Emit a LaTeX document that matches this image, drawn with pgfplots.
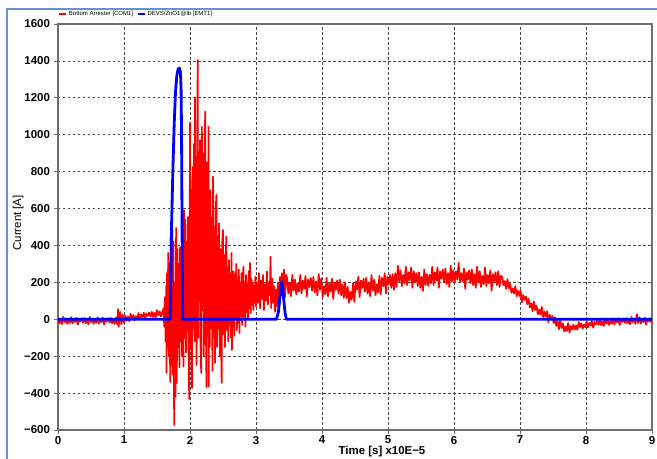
\documentclass[border=0pt]{standalone}
\usepackage{fontspec}
\setmainfont{Liberation Sans}
\usepackage{pgfplots}
\usepackage{pgfplotstable}
\pgfplotsset{compat=1.18}

\definecolor{frameblue}{RGB}{100,149,210}
\definecolor{axgray}{RGB}{110,110,110}
\definecolor{gridgray}{RGB}{70,70,70}

% Bottom Arrester [COM1]
\pgfplotstableread{
x y
0.00 7
0.02 -22
0.04 -1
0.06 -27
0.08 13
0.10 -16
0.12 4
0.14 -25
0.16 -4
0.18 -20
0.20 11
0.22 -23
0.24 1
0.26 -15
0.28 9
0.30 -29
0.32 2
0.34 -12
0.36 6
0.38 -18
0.40 7
0.42 -22
0.44 -1
0.46 -27
0.48 13
0.50 -16
0.52 4
0.54 -25
0.56 -4
0.58 -20
0.60 11
0.62 -23
0.64 1
0.66 -15
0.68 9
0.70 -29
0.72 2
0.74 -12
0.76 6
0.78 -18
0.80 7
0.82 -22
0.84 -1
0.86 -25
0.88 10
0.90 -30
0.91 55
0.92 -40
0.94 40
0.96 -28
0.98 25
1.00 -20
1.02 20
1.04 -8
1.06 14
1.08 -11
1.10 30
1.12 2
1.14 23
1.16 -5
1.18 17
1.20 2
1.22 34
1.24 1
1.26 26
1.28 11
1.30 36
1.32 -1
1.34 31
1.36 18
1.38 37
1.40 14
1.42 40
1.44 12
1.46 34
1.48 9
1.50 50
1.52 22
1.54 43
1.56 15
1.58 39
1.60 60
1.61 -40
1.62 120
1.63 -120
1.64 180
1.645 -290
1.65 250
1.66 -150
1.67 360
1.68 -200
1.69 300
1.70 -340
1.71 450
1.72 -250
1.73 500
1.74 -300
1.75 420
1.76 -573
1.77 200
1.78 -420
1.79 495
1.80 -345
1.81 380
1.82 -150
1.83 300
1.84 -260
1.85 390
1.86 -120
1.87 350
1.88 -200
1.89 480
1.90 -257
1.91 590
1.92 -100
1.93 540
1.94 -180
1.95 420
1.96 -60
1.97 554
1.98 -300
1.99 -432
2.00 1064
2.01 -150
2.02 700
2.03 -372
2.04 825
2.05 -50
2.06 950
2.07 -120
2.075 1199
2.08 200
2.09 880
2.10 -248
2.11 1000
2.117 1405
2.125 -100
2.13 760
2.14 100
2.15 971
2.16 -150
2.17 -291
2.18 1044
2.19 50
2.20 900
2.21 -200
2.22 780
2.23 1125
2.24 0
2.25 -367
2.26 850
2.27 -100
2.28 1044
2.285 -365
2.29 600
2.30 -150
2.31 700
2.32 -50
2.33 550
2.34 -280
2.35 773
2.36 -100
2.37 500
2.38 -237
2.39 600
2.40 674
2.41 -150
2.42 450
2.43 -50
2.44 520
2.45 -200
2.46 380
2.47 -100
2.48 -345
2.49 420
2.50 484
2.51 -80
2.52 350
2.53 -150
2.54 300
2.55 447
2.56 -60
2.57 280
2.58 -120
2.59 320
2.60 -30
2.61 250
2.62 -100
2.63 359
2.635 -166
2.64 200
2.65 -40
2.66 260
2.67 -90
2.68 240
2.69 0
2.70 300
2.71 -60
2.72 220
2.73 -20
2.74 270
2.75 -74
2.76 200
2.77 20
2.78 250
2.79 -30
2.80 230
2.81 285
2.82 10
2.83 200
2.84 -40
2.85 240
2.86 40
2.87 190
2.88 0
2.89 260
2.90 60
2.91 305
2.92 34
2.93 220
2.94 80
2.95 200
2.96 50
2.97 180
2.98 90
2.99 230
3.00 70
3.015 200
3.03 90
3.045 250
3.06 60
3.075 210
3.09 110
3.105 240
3.12 50
3.135 190
3.15 100
3.165 260
3.18 80
3.195 200
3.21 130
3.22 339
3.23 60
3.245 220
3.26 90
3.275 180
3.29 40
3.305 160
3.32 70
3.335 200
3.35 110
3.365 230
3.38 130
3.395 250
3.41 140
3.425 270
3.44 120
3.455 240
3.47 225
3.49 140
3.51 200
3.53 125
3.55 240
3.57 155
3.59 215
3.61 135
3.63 195
3.65 150
3.67 240
3.69 140
3.71 210
3.73 165
3.75 235
3.77 125
3.79 215
3.81 175
3.83 225
3.85 155
3.87 230
3.89 145
3.91 205
3.93 130
3.95 245
3.97 160
3.99 220
4.01 120
4.03 180
4.05 135
4.07 225
4.09 125
4.11 195
4.13 150
4.15 220
4.17 110
4.19 200
4.21 160
4.23 210
4.25 140
4.27 215
4.29 130
4.31 190
4.33 115
4.35 200
4.37 115
4.39 175
4.41 90
4.43 150
4.45 105
4.47 195
4.49 95
4.51 205
4.53 160
4.55 230
4.57 120
4.59 210
4.61 170
4.63 220
4.65 150
4.67 225
4.69 140
4.71 200
4.73 125
4.75 240
4.77 155
4.79 215
4.81 130
4.83 190
4.85 145
4.87 235
4.89 135
4.91 225
4.93 180
4.95 250
4.97 140
4.99 230
5.01 190
5.03 240
5.05 170
5.07 245
5.09 160
5.11 250
5.13 175
5.15 290
5.17 205
5.19 265
5.21 180
5.23 240
5.25 195
5.27 285
5.29 185
5.31 255
5.33 210
5.35 280
5.37 170
5.39 260
5.41 200
5.43 250
5.45 180
5.47 255
5.49 170
5.51 230
5.53 155
5.55 270
5.57 185
5.59 245
5.61 180
5.63 240
5.65 195
5.67 285
5.69 185
5.71 255
5.73 210
5.75 280
5.77 170
5.79 260
5.81 220
5.83 270
5.85 200
5.87 275
5.89 190
5.91 250
5.93 175
5.95 290
5.97 205
5.99 265
6.01 200
6.03 260
6.05 215
6.07 305
6.09 205
6.11 250
6.13 205
6.15 275
6.17 165
6.19 255
6.21 215
6.23 265
6.25 195
6.27 270
6.29 185
6.31 245
6.33 170
6.35 285
6.37 200
6.39 260
6.41 175
6.43 235
6.45 190
6.47 280
6.49 180
6.51 240
6.53 195
6.55 265
6.57 155
6.59 245
6.61 205
6.63 255
6.65 185
6.67 260
6.69 175
6.71 235
6.73 230
6.75 183
6.77 207
6.79 165
6.81 217
6.83 169
6.85 193
6.87 144
6.89 168
6.91 139
6.93 180
6.95 125
6.97 154
6.99 126
7.01 154
7.03 92
7.05 131
7.07 105
7.09 123
7.11 82
7.13 112
7.15 64
7.17 87
7.19 43
7.21 96
7.23 50
7.25 75
7.27 27
7.29 53
7.31 25
7.33 67
7.35 12
7.37 41
7.39 14
7.41 44
7.43 -16
7.45 24
7.47 -1
7.49 19
7.51 -21
7.53 11
7.55 -36
7.57 -11
7.59 -54
7.61 -1
7.63 -48
7.65 -22
7.67 -67
7.69 -39
7.71 -64
7.73 -20
7.75 -72
7.77 -36
7.79 -56
7.81 -29
7.83 -56
7.85 -33
7.87 -57
7.89 -15
7.91 -43
7.93 -22
7.95 -50
7.97 -28
7.99 -43
8.01 -11
8.03 -44
8.05 -19
8.07 -34
8.09 -9
8.11 -46
8.13 -14
8.15 -27
8.17 -8
8.19 -31
8.21 -5
8.23 -33
8.25 -11
8.27 -36
8.29 5
8.31 -23
8.33 -3
8.35 -31
8.37 -10
8.39 -25
8.41 6
8.43 -27
8.45 -3
8.47 -18
8.49 6
8.51 -31
8.53 0
8.55 -14
8.57 4
8.59 -20
8.61 6
8.63 -23
8.65 -2
8.67 -28
8.69 12
8.71 -16
8.73 4
8.75 -25
8.77 28
8.79 -20
8.81 11
8.83 -23
8.85 1
8.87 -15
8.89 9
8.91 -29
8.93 2
8.95 -12
8.97 6
8.99 -18
}\redtbl

% DEVS/ZnO1@lb [EMT1]
\pgfplotstableread{
x y
0.00 0
1.70 0
1.71 200
1.72 500
1.74 800
1.76 1050
1.78 1230
1.80 1320
1.82 1355
1.84 1362
1.855 1340
1.865 1250
1.872 1000
1.878 600
1.884 250
1.89 0
3.31 0
3.34 40
3.36 110
3.38 180
3.39 204
3.40 185
3.42 110
3.44 35
3.46 0
9.00 0
}\bluetbl

\begin{document}
\begin{tikzpicture}
\path[use as bounding box] (-58bp,-29bp) rectangle (599bp,430bp);
\draw[color=frameblue, line width=1.6bp] (-51bp,-35bp) -- (-51bp,421bp) -- (605bp,421bp);
\begin{axis}[
  at={(0,0)}, anchor=south west,
  scale only axis,
  width=594bp, height=406bp,
  xmin=0, xmax=9,
  ymin=-600, ymax=1600,
  xtick={0,1,...,9},
  ytick={-600,-400,...,1600},
  yticklabels={−600,−400,−200,0,200,400,600,800,1000,1200,1400,1600},
  tick pos=left,
  tick align=outside,
  major tick length=3.5bp,
  tick style={axgray, line width=0.8bp},
  axis line style={axgray, line width=1.2bp},
  grid=major,
  major grid style={gridgray, line width=0.7bp, dash pattern=on 2.5bp off 2.5bp},
  /pgf/number format/assume math mode=true,
  ticklabel style={font=\bfseries\fontsize{11.5}{13}\selectfont},
  xticklabel style={yshift=1bp},
  yticklabel style={xshift=-1bp},
  xlabel={\bfseries Time [s] x10E−5},
  xlabel style={at={(axis description cs:0.5455,0)}, anchor=north, yshift=-13bp, font=\fontsize{11.5}{13}\selectfont},
  ylabel={Current [A]},
  ylabel style={at={(axis description cs:-0.052,0.51)}, anchor=south, font=\fontsize{11.5}{13}\selectfont},
  legend columns=2,
  legend style={at={(axis description cs:0,1)}, anchor=west, yshift=10bp,
    draw=none, fill=none, inner sep=0pt, outer sep=0pt,
    font=\fontsize{6}{7}\selectfont,
    /tikz/every even column/.append style={column sep=1.5bp}},
  legend image code/.code={\draw[#1, line width=2bp] (0bp,0bp) -- (7bp,0bp);},
]
\addplot[red, line width=1.7bp, line join=round] table {\redtbl};
\addlegendentry{Bottom Arrester [COM1]}
\addplot[blue, line width=2.8bp, line join=round] table {\bluetbl};
\addlegendentry{DEVS/ZnO1@lb [EMT1]}
\end{axis}
\end{tikzpicture}
\end{document}
